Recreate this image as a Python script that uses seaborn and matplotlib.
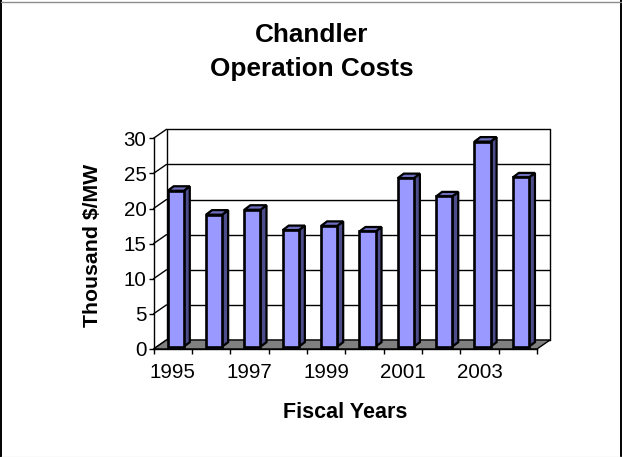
import seaborn as sns
import pandas as pd
import matplotlib.pyplot as plt
from matplotlib.lines import Line2D
from matplotlib.patches import Polygon

years = [1995, 1996, 1997, 1998, 1999, 2000, 2001, 2002, 2003, 2004]
costs = [22.2, 18.8, 19.5, 16.6, 17.2, 16.4, 24.0, 21.4, 29.2, 24.1]
y_ticks = [0, 5, 10, 15, 20, 25, 30]

sns.set_style("white")
plt.rcParams['font.family'] = ['Liberation Sans', 'DejaVu Sans']
plt.rcParams['text.color'] = 'black'
plt.rcParams['axes.labelcolor'] = 'black'

data = pd.DataFrame({'Year': years, 'Cost': costs})

fig = plt.figure(figsize=(6.22, 4.57), dpi=100, facecolor='white')

# picture border, darker on the sides than on top and bottom
xl, xr = 1 / 622, 620.5 / 622
yb, yt = 0.5 / 457, 455.5 / 457
fig.add_artist(Line2D([xl, xl], [0, 1], color='black', lw=1.4, transform=fig.transFigure))
fig.add_artist(Line2D([xr, xr], [0, 1], color='black', lw=1.4, transform=fig.transFigure))
fig.add_artist(Line2D([xl, xr], [yt, yt], color='#8c8c8c', lw=1, transform=fig.transFigure))
fig.add_artist(Line2D([xl, xr], [yb, yb], color='#e6e6e6', lw=1, transform=fig.transFigure))

ax = fig.add_axes([153.5 / 622, (457 - 349) / 457, 383.5 / 622, 210.7 / 457])
ax.patch.set_alpha(0)

sns.barplot(x='Year', y='Cost', data=data, color='#9999FF', saturation=1, width=0.42,
            edgecolor='black', linewidth=1.9, zorder=5, ax=ax)
bars = list(ax.patches)

ax.set_xlim(-0.5, 9.5)
ax.set_ylim(0, 30)

# depth of the fake 3D box, in data units
dx = 13 / 38.35
dy = 9 / 7.02
x0, x1 = -0.5, 9.5

# floor and back wall
ax.add_patch(Polygon([(x0, 0), (x1, 0), (x1 + dx, dy), (x0 + dx, dy)], closed=True, facecolor='#808080',
                     edgecolor='black', linewidth=1, clip_on=False, zorder=2))
for v in y_ticks:
    ax.plot([x0 + dx, x1 + dx], [v + dy, v + dy], color='black', lw=1, clip_on=False, zorder=1)
    ax.plot([x0, x0 + dx], [v, v + dy], color='black', lw=1, clip_on=False, zorder=1)
ax.plot([x0 + dx, x0 + dx], [dy, 30 + dy], color='black', lw=1, clip_on=False, zorder=1)
ax.plot([x1 + dx, x1 + dx], [dy, 30 + dy], color='black', lw=1, clip_on=False, zorder=1)

# bars: shift into the box and add side and top faces
bdx = 0.08
bdy = 0.33
sx = 6 / 38.35
sy = 4.5 / 7.02
for bar in bars:
    bar.set_x(bar.get_x() + bdx)
    bar.set_y(bdy)
    bar.set_clip_on(False)
    l, w, h = bar.get_x(), bar.get_width(), bar.get_height()
    r = l + w
    t = bdy + h
    ax.add_patch(Polygon([(r, bdy), (r + sx, bdy + sy), (r + sx, t + sy), (r, t)], closed=True,
                         facecolor='#4D4D8C', edgecolor='black', linewidth=1.6, clip_on=False, zorder=4))
    ax.add_patch(Polygon([(l, t), (l + sx, t + sy), (r + sx, t + sy), (r, t)], closed=True,
                         facecolor='#6F6FC0', edgecolor='black', linewidth=1.6, clip_on=False, zorder=4))

sns.despine(ax=ax, top=True, right=True)
for s in ['left', 'bottom']:
    ax.spines[s].set_linewidth(1)
    ax.spines[s].set_color('black')
    ax.spines[s].set_zorder(3)

ax.set_yticks(y_ticks)
ax.set_xticks(range(0, 10, 2))
ax.set_xticklabels(years[::2])
ax.set_xticks([x0 + i for i in range(11)], minor=True)
ax.tick_params(axis='x', which='major', length=0, labelsize=14.8, pad=10, colors='black')
ax.tick_params(axis='x', which='minor', length=3.6, width=1, color='black', bottom=True)
ax.tick_params(axis='y', length=3.6, width=1, labelsize=14.8, pad=1.5, colors='black', left=True)

ax.set_xlabel('Fiscal Years', fontsize=15.5, fontweight='bold')
ax.xaxis.set_label_coords(345 / 622, (457 - 418) / 457, transform=fig.transFigure)
ax.xaxis.label.set_verticalalignment('baseline')
ax.set_ylabel('Thousand $/MW', fontsize=15.3, fontweight='bold')
ax.yaxis.set_label_coords(92 / 622, (457 - 245) / 457, transform=fig.transFigure)
ax.yaxis.label.set_verticalalignment('center')

fig.text(311.7 / 622, (457 - 42.3) / 457, 'Chandler', fontsize=18.8, fontweight='bold', ha='center', va='baseline')
fig.text(311.7 / 622, (457 - 75.7) / 457, 'Operation Costs', fontsize=18.8, fontweight='bold', ha='center', va='baseline')

plt.savefig('out.png', dpi=100)
